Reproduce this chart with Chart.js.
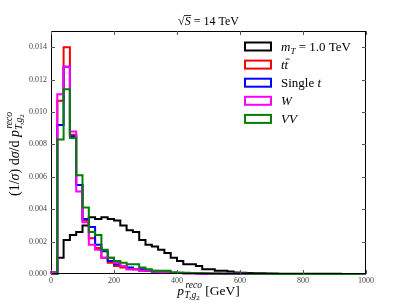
<!DOCTYPE html>
<html>
<head>
<meta charset="utf-8">
<script src="https://cdn.jsdelivr.net/npm/chart.js@4/dist/chart.umd.min.js"></script>
<style>
html,body{margin:0;padding:0;background:#fff;}
#wrap{width:407px;height:305px;position:relative;}
</style>
</head>
<body>
<div id="wrap"><canvas id="c" width="407" height="305"></canvas></div>
<script>
// Histogram bin edges (GeV): 50 bins of 20 GeV from 0 to 1000
const binEdges = [0,20,40,60,80,100,120,140,160,180,200,220,240,260,280,300,320,340,360,380,400,420,440,460,480,500,520,540,560,580,600,620,640,660,680,700,720,740,760,780,800,820,840,860,880,900,920,940,960,980,1000];

const signalMT1 = [0.0000,0.0010,0.0021,0.0024,0.0026,0.0030,0.0035,0.0034,0.0035,0.0034,0.0033,0.0030,0.0027,0.0026,0.0021,0.0018,0.0017,0.0015,0.0013,0.0010,0.0008,0.0006,0.0006,0.0005,0.0003,0.0003,0.0002,0.0002,0.00015,0.0001,0.00008,0.00006,0.00005,0.00004,0.00003,0.00003,0.00002,0.00002,0.00002,0.00001,0.00001,0.00001,0.00001,0.00001,0.00001,0.00001,0.0,0.0,0.0,0.0];
const ttbar = [0.0001,0.0107,0.0140,0.0086,0.0055,0.0033,0.0022,0.0016,0.0010,0.0007,0.0005,0.0004,0.0003,0.0003,0.0002,0.0002,0.00015,0.0001,0.0001,0.00008,0.00006,0.00005,0.00004,0.00003,0.00002,0.00002,0.00002,0.00001,0.00001,0.00001,0.00001,0.0,0.0,0.0,0.0,0.0,0.0,0.0,0.0,0.0,0.0,0.0,0.0,0.0,0.0,0.0,0.0,0.0,0.0,0.0];
const singleTop = [0.0001,0.0092,0.0128,0.0085,0.0055,0.0034,0.0029,0.0018,0.0014,0.0008,0.0006,0.0005,0.0004,0.0003,0.0003,0.0002,0.00015,0.0001,0.0001,0.00008,0.00006,0.00005,0.00004,0.00003,0.00002,0.00002,0.00002,0.00001,0.00001,0.00001,0.00001,0.0,0.0,0.0,0.0,0.0,0.0,0.0,0.0,0.0,0.0,0.0,0.0,0.0,0.0,0.0,0.0,0.0,0.0,0.0];
const wJets = [0.0001,0.0111,0.0128,0.0088,0.0051,0.0032,0.0018,0.0015,0.0010,0.0010,0.0007,0.0005,0.0003,0.0003,0.0002,0.0002,0.0002,0.0001,0.0001,0.00008,0.00006,0.00005,0.00004,0.00003,0.00003,0.00002,0.00002,0.00001,0.00001,0.00001,0.00001,0.0,0.0,0.0,0.0,0.0,0.0,0.0,0.0,0.0,0.0,0.0,0.0,0.0,0.0,0.0,0.0,0.0,0.0,0.0];
const diboson = [0.0000,0.0083,0.0114,0.0084,0.0061,0.0041,0.0026,0.0024,0.0015,0.0010,0.0008,0.0007,0.0006,0.0006,0.0004,0.0003,0.0002,0.0002,0.0002,0.0001,0.0001,0.00008,0.00006,0.00005,0.00004,0.00003,0.00003,0.00002,0.00002,0.00002,0.00001,0.00001,0.00001,0.00001,0.00001,0.0,0.0,0.0,0.0,0.0,0.0,0.0,0.0,0.0,0.0,0.0,0.0,0.0,0.0,0.0];

const xTicks = [0,200,400,600,800,1000];
const yTicks = [0.000,0.002,0.004,0.006,0.008,0.010,0.012,0.014];

const SERIF = '"Liberation Serif", "DejaVu Serif", serif';

// step outline: start at (0,0), then each bin's value ends at its right edge ('after' stepping)
function stepPoints(vals){
  const pts = [{x:binEdges[0], y:0}];
  vals.forEach((v,i)=>pts.push({x:binEdges[i+1], y:v}));
  return pts;
}

const series = [
  {label:'mT = 1.0 TeV', data:signalMT1, color:'#000000'},
  {label:'tt', data:ttbar, color:'#ff0000'},
  {label:'Single t', data:singleTop, color:'#0000ff'},
  {label:'W', data:wJets, color:'#ff00ff'},
  {label:'VV', data:diboson, color:'#008000'}
];

function fnt(s){ return (s.it?'italic ':'')+s.sz+'px '+SERIF; }
function richWidth(ctx, segs){
  let w=0;
  segs.forEach(s=>{ctx.font=fnt(s); w+=ctx.measureText(s.t).width + (s.gap||0);});
  return w;
}
function drawRich(ctx, segs, x, y){
  let cx=x;
  segs.forEach(s=>{
    ctx.font=fnt(s);
    ctx.fillText(s.t, cx, y+(s.dy||0));
    cx += ctx.measureText(s.t).width + (s.gap||0);
  });
  return cx;
}
function drawP(ctx, x, y, main, sup, sub, sub2){
  ctx.font='italic '+main+'px '+SERIF;
  ctx.fillText('p', x, y);
  const px = x + ctx.measureText('p').width + 0.5;
  ctx.font='italic '+sup+'px '+SERIF;
  ctx.fillText('reco', px+1, y - main*0.52);
  const supW = ctx.measureText('reco').width + 1;
  ctx.font='italic '+sub+'px '+SERIF;
  ctx.fillText('T,g', px, y + main*0.22);
  const gW = ctx.measureText('T,g').width;
  ctx.font=sub2+'px '+SERIF;
  ctx.fillText('2', px+gW, y + main*0.36);
  const subW = gW + ctx.measureText('2').width;
  return px + Math.max(supW, subW);
}
function pWidth(ctx, main, sup, sub, sub2){
  ctx.font='italic '+main+'px '+SERIF; const a=ctx.measureText('p').width+0.5;
  ctx.font='italic '+sup+'px '+SERIF; const b=ctx.measureText('reco').width+1;
  ctx.font='italic '+sub+'px '+SERIF; let c=ctx.measureText('T,g').width;
  ctx.font=sub2+'px '+SERIF; c+=ctx.measureText('2').width;
  return a+Math.max(b,c);
}

const decorPlugin = {
  id:'decor',
  afterDraw(chart){
    const ctx=chart.ctx, a=chart.chartArea;
    const xs=chart.scales.x, ys=chart.scales.y;
    ctx.save();
    ctx.strokeStyle='#000'; ctx.lineWidth=1;
    ctx.strokeRect(a.left+0.5, a.top+0.5, a.right-a.left-1, a.bottom-a.top-1);
    const tl=4;
    ctx.beginPath();
    xTicks.forEach(v=>{
      const px=Math.round(xs.getPixelForValue(v))+0.5;
      ctx.moveTo(px,a.bottom); ctx.lineTo(px,a.bottom-tl);
      ctx.moveTo(px,a.top); ctx.lineTo(px,a.top+tl);
    });
    yTicks.forEach(v=>{
      const py=Math.round(ys.getPixelForValue(v))+0.5;
      ctx.moveTo(a.left,py); ctx.lineTo(a.left+tl,py);
      ctx.moveTo(a.right,py); ctx.lineTo(a.right-tl,py);
    });
    ctx.strokeStyle='#555'; ctx.stroke();

    ctx.fillStyle='#000';
    ctx.textBaseline='alphabetic';
    // title
    const tsegs=[{t:'√',sz:12},{t:'S',it:true,sz:12},{t:' = 14 TeV',sz:12}];
    const tw=richWidth(ctx,tsegs);
    const tx=(a.left+a.right)/2 - tw/2;
    ctx.font='12px '+SERIF;
    const sqw=ctx.measureText('√').width;
    ctx.font='italic 12px '+SERIF;
    const sw=ctx.measureText('S').width;
    drawRich(ctx,tsegs,tx,25);
    ctx.beginPath(); ctx.lineWidth=0.8; ctx.strokeStyle='#000';
    ctx.moveTo(tx+sqw-0.5,15.5); ctx.lineTo(tx+sqw+sw+0.5,15.5); ctx.stroke();

    // x label
    ctx.font='13.5px '+SERIF;
    const gevW = ctx.measureText(' [GeV]').width;
    const xw = pWidth(ctx,13.5,9.5,9.5,7) + gevW;
    const xx=(a.left+a.right)/2 - xw/2;
    const xe = drawP(ctx, xx, 295, 13.5, 9.5, 9.5, 7);
    ctx.font='13.5px '+SERIF; ctx.fillText(' [GeV]', xe, 295);

    // y label rotated
    ctx.save();
    ctx.translate(19,154); ctx.rotate(-Math.PI/2);
    const ysegs=[{t:'(1/',sz:14},{t:'σ',it:true,sz:14},{t:') d',sz:14},{t:'σ',it:true,sz:14},{t:'/d ',sz:14}];
    const yw=richWidth(ctx,ysegs) + pWidth(ctx,14,9.5,9.5,7);
    const yx=-yw/2;
    const ye = drawRich(ctx,ysegs,yx,0);
    drawP(ctx, ye, 0, 14, 9.5, 9.5, 7);
    ctx.restore();

    // legend
    const legend=[
      [{t:'m',it:true,sz:13},{t:'T',it:true,sz:9,dy:2.5},{t:' = 1.0 TeV',sz:13}],
      [{t:'t',it:true,sz:13},{t:'t',it:true,sz:13}],
      [{t:'Single ',sz:13},{t:'t',it:true,sz:13}],
      [{t:'W',it:true,sz:13}],
      [{t:'VV',it:true,sz:13}]
    ];
    const ly0=46.5, ldy=18.1;
    series.forEach((s,i)=>{
      const cy=ly0+i*ldy;
      ctx.lineWidth=2; ctx.strokeStyle=s.color; ctx.fillStyle='#fff';
      ctx.fillRect(245,cy-4,26,8);
      ctx.strokeRect(245,cy-4,26,8);
      ctx.fillStyle='#000';
      drawRich(ctx,legend[i],281,cy+4.5);
      if(i===1){
        ctx.font='italic 13px '+SERIF;
        const w1=ctx.measureText('t').width;
        ctx.lineWidth=0.8; ctx.strokeStyle='#000';
        ctx.beginPath(); ctx.moveTo(281+w1+1,cy-5.5); ctx.lineTo(281+2*w1+1.5,cy-5.5); ctx.stroke();
      }
    });
    ctx.restore();
  }
};

const chart = new Chart(document.getElementById('c'), {
  type:'line',
  data:{
    datasets: series.map((s,i)=>({
      label:s.label,
      data:stepPoints(s.data),
      borderColor:s.color,
      borderWidth:2,
      pointRadius:0,
      fill:false,
      stepped:'after',
      order: series.length - i,
      clip: 2
    }))
  },
  options:{
    responsive:false,
    animation:false,
    devicePixelRatio:1,
    layout:{padding:{left:0,right:41,top:31,bottom:0}},
    plugins:{legend:{display:false},tooltip:{enabled:false},title:{display:false}},
    scales:{
      x:{
        type:'linear', min:0, max:1000,
        afterBuildTicks(s){ s.ticks = xTicks.map(v=>({value:v})); },
        afterFit(s){ s.height=31; },
        grid:{display:false, drawTicks:false},
        border:{display:false},
        ticks:{color:'#444', font:{family:SERIF, size:8}, padding:2, maxRotation:0,
          callback:(v)=>String(v)}
      },
      y:{
        type:'linear', min:0, max:0.015,
        afterBuildTicks(s){ s.ticks = yTicks.map(v=>({value:v})); },
        afterFit(s){ s.width=51; },
        grid:{display:false, drawTicks:false},
        border:{display:false},
        ticks:{color:'#444', font:{family:SERIF, size:8}, padding:4,
          callback:(v)=>Number(v).toFixed(3)}
      }
    }
  },
  plugins:[decorPlugin]
});
</script>
</body>
</html>
